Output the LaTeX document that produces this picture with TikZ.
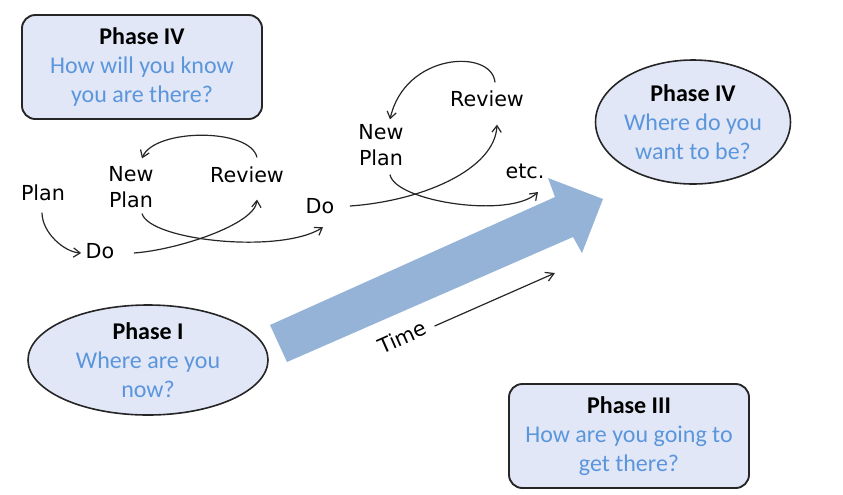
\documentclass[tikz,border=0pt]{standalone}
\usepackage{fontspec}
\setmainfont{Carlito}
\newfontfamily\lblfont{DejaVu Sans}
\usetikzlibrary{shapes.geometric,arrows.meta,calc}
\definecolor{qblue}{HTML}{5B96DC}
\definecolor{pfill}{HTML}{E1E7F7}
\definecolor{bigarrow}{HTML}{95B3D7}
\begin{document}
\begin{tikzpicture}[x=0.75pt,y=-0.75pt,
  phasebox/.style={draw=black!85,line width=1.4pt,fill=pfill,rounded corners=10pt,
    minimum width=180pt,minimum height=78pt,align=center,inner sep=0pt,
    font=\fontsize{18}{21.75}\selectfont},
  phaseell/.style={ellipse,draw=black!85,line width=1.2pt,fill=pfill,inner sep=0pt,
    align=center,font=\fontsize{18}{21.75}\selectfont},
  lbl/.style={font=\lblfont\fontsize{15.5}{20}\selectfont,align=center,inner sep=1pt},
  conn/.style={line width=0.9pt,black!85,-{Straight Barb[length=5pt,width=7pt]}}]
\useasboundingbox (0,0) rectangle (843,494);

% big arrow
\fill[bigarrow] (270,325) -- (555,197) -- (548,178) -- (603,199) -- (582,253) -- (573,237) -- (287,362) -- cycle;

% phases
\node[phasebox] (p4box) at (142,67) {\textbf{Phase IV}\\\textcolor{qblue}{How will you know}\\\textcolor{qblue}{you are there?}};
\node[phasebox] (p3box) at (629,436) {\textbf{Phase III}\\\textcolor{qblue}{How are you going to}\\\textcolor{qblue}{get there?}};
\node[phaseell,minimum width=145.5pt,minimum height=93pt] (p4ell) at (693,122) {\textbf{Phase IV}\\\textcolor{qblue}{Where do you}\\\textcolor{qblue}{want to be?}};
\node[phaseell,minimum width=180pt,minimum height=82.5pt] (p1ell) at (148,360) {\textbf{Phase I}\\\textcolor{qblue}{Where are you}\\\textcolor{qblue}{now?}};

% labels
\node[lbl] (plan) at (43,193) {Plan};
\node[lbl] (do1) at (100,251) {Do};
\node[lbl] (np1) at (131,187) {New\\Plan};
\node[lbl] (rev1) at (247,175) {Review};
\node[lbl] (do2) at (320,206) {Do};
\node[lbl] (np2) at (381,145) {New\\Plan};
\node[lbl] (rev2) at (487,99) {Review};
\node[lbl] (etc) at (525,171) {etc.};
\node[lbl,rotate=24] (time) at (402,337) {Time};
\coordinate (timeend) at (555,273);

% connectors
\draw[conn] ($(plan.south)+(-1,10)$) .. controls +(0,20) and +(-17,-1) .. ($(do1.west)+(-3,2)$);
\draw[conn] ($(rev1.north)+(10,-8)$) .. controls +(-7,-30) and +(12,-30) .. ($(np1.north)+(11,-6)$);
\draw[conn] ($(do1.east)+(18,2)$) .. controls +(43,-3) and +(-2,25) .. ($(rev1.south)+(10,15)$);
\draw[conn] ($(np1.south)+(11,4)$) .. controls +(8,27) and +(-43,27) .. ($(do2.south)+(3,12)$);
\draw[conn] ($(rev2.north)+(8,-7)$) .. controls +(-3,-34) and +(15,-67) .. ($(np2.north)+(9,-3)$);
\draw[conn] ($(do2.east)+(14,0)$) .. controls +(72,-5) and +(-2,45) .. ($(rev2.south)+(10,16)$);
\draw[conn] ($(np2.south)+(9,7)$) .. controls +(5,27) and +(-28,27) .. ($(etc.south)+(13,12)$);
\draw[line width=0.9pt,black!85,-{Straight Barb[length=6pt,width=7pt]}] ($(time.east)+(8,0)$) -- (timeend);
\end{tikzpicture}
\end{document}
